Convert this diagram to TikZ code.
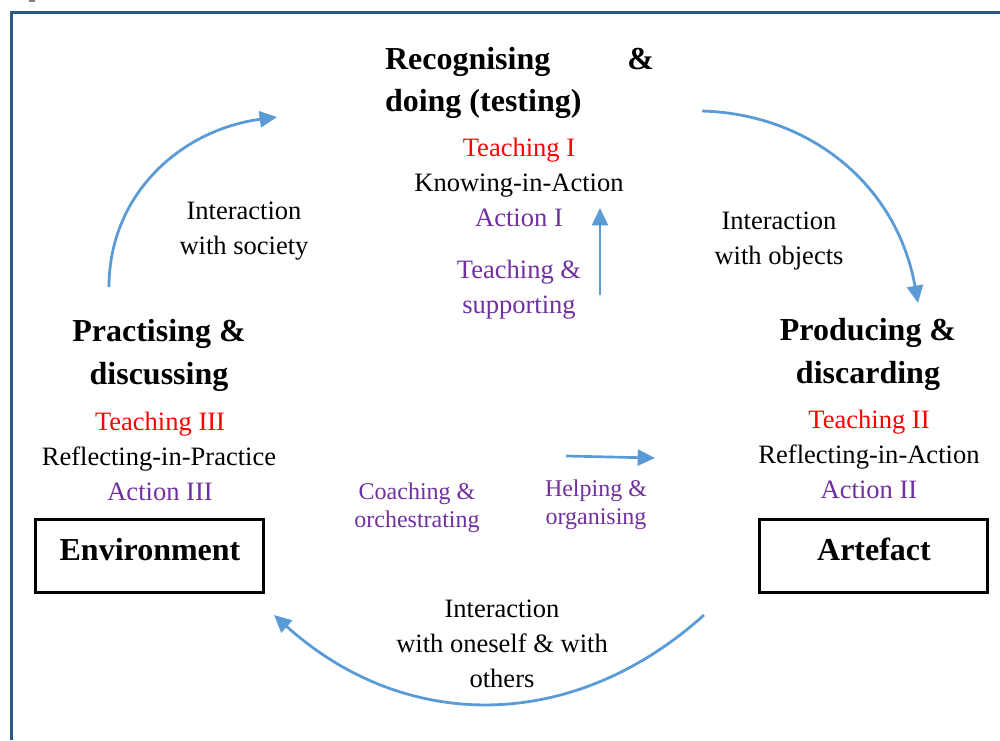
\documentclass[tikz,border=0pt]{standalone}
\usepackage{fontspec}
\setmainfont{Liberation Serif}
\usetikzlibrary{arrows.meta}
\definecolor{framec}{HTML}{2B5A87}
\definecolor{arrowc}{HTML}{5B9BD5}
\definecolor{purp}{HTML}{7030A0}
\definecolor{redt}{HTML}{FF0000}
\tikzset{
  txt/.style={inner sep=0pt,outer sep=0pt,anchor=base,align=center,font=\fontsize{19.9pt}{26.2pt}\selectfont},
  head/.style={inner sep=0pt,outer sep=0pt,anchor=base,align=center,font=\fontsize{24pt}{32pt}\selectfont\bfseries},
  small/.style={inner sep=0pt,outer sep=0pt,anchor=base,align=center,text=purp,font=\fontsize{18pt}{21pt}\selectfont},
  boxed/.style={draw=black,line width=2.1pt,minimum width=171pt,minimum height=54.75pt,inner sep=0pt},
  flow/.style={draw=arrowc,line width=2.1pt,-{Triangle[length=13pt,width=12pt]}},
  thin flow/.style={draw=arrowc,line width=2pt,-{Triangle[length=13pt,width=12pt]}}
}
\begin{document}
\begin{tikzpicture}[x=0.75pt,y=-0.75pt]
\path[use as bounding box] (0,0) rectangle (1000,740);
\fill[gray] (29,0) rectangle (35,1.5);
\draw[framec,line width=2.2pt] (11.5,740) -- (11.5,12.5) -- (1000,12.5);

\node[head,text width=201.8pt,align=justify,anchor=base west] (rec) at (385,69) {Recognising\hfill\&\\doing (testing)};
\node[txt,text=redt] (t1) at (519,156) {Teaching I};
\node[txt] (k1) at (519,191) {Knowing-in-Action};
\node[txt,text=purp] (a1) at (519,226) {Action I};
\node[txt,text=purp] (ts) at (519,313) {Teaching \&\\supporting};

\node[head] (pra) at (159,384) {Practising \&\\discussing};
\node[txt,text=redt] (t3) at (160,430) {Teaching III};
\node[txt] (k3) at (159,465) {Reflecting-in-Practice};
\node[txt,text=purp] (a3) at (160,500) {Action III};
\node[boxed] (env) at (149.5,556) {};
\node[head] at (150,560) {Environment};

\node[head] (pro) at (868,383) {Producing \&\\discarding};
\node[txt,text=redt] (t2) at (869,428) {Teaching II};
\node[txt] (k2) at (869,463) {Reflecting-in-Action};
\node[txt,text=purp] (a2) at (869,498) {Action II};
\node[boxed] (art) at (873.7,556) {};
\node[head] at (874,560) {Artefact};

\node[txt] (is) at (244,254) {Interaction\\with society};
\node[txt] (io) at (779,264) {Interaction\\with objects};
\node[txt] (ie) at (502,687) {Interaction\\with oneself \& with\\others};
\node[small] (co) at (417,527) {Coaching \&\\orchestrating};
\node[small] (he) at (596,524) {Helping \&\\organising};

\coordinate (a) at (109,287);
\coordinate (b) at (277,117);
\coordinate (c) at (702,111);
\coordinate (d) at (918,303);
\coordinate (e) at (704,615);
\coordinate (f) at (274,615);
\coordinate (g) at (600,295);
\coordinate (h) at (600,208);
\coordinate (i) at (566,456);
\coordinate (j) at (655,458);
\draw[flow] (a) .. controls (109,195) and (180,130) .. (b);
\draw[flow] (c) .. controls (810,114) and (897,185) .. (d);
\draw[flow] (e) .. controls (573,733) and (405,733) .. (f);
\draw[thin flow] (g) -- (h);
\draw[thin flow] (i) -- (j);
\end{tikzpicture}
\end{document}
